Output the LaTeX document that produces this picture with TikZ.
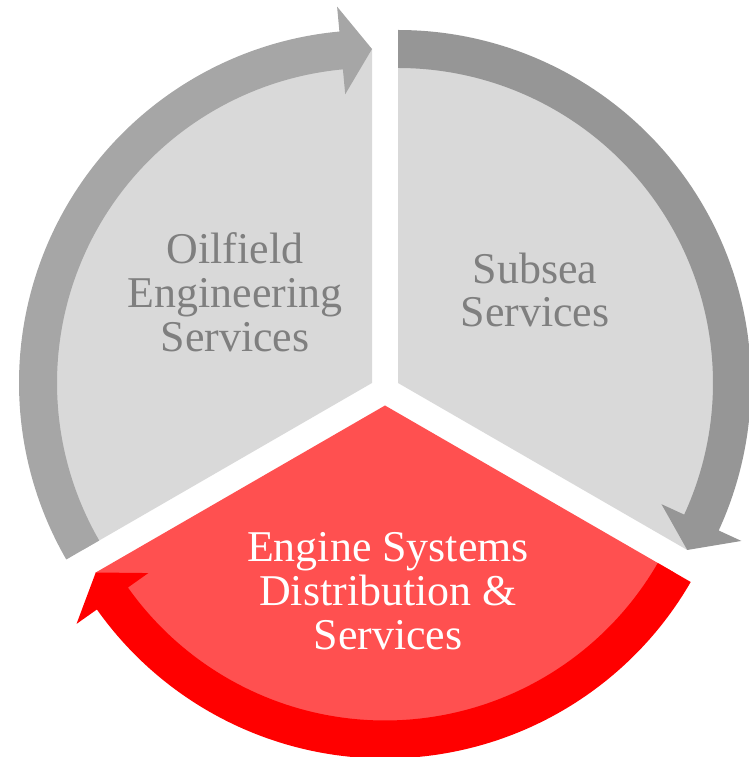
\documentclass[tikz,border=0pt]{standalone}
\usepackage{fontspec}
\setmainfont{Liberation Serif}
\usetikzlibrary{positioning}

\definecolor{segfill}{HTML}{D9D9D9}
\definecolor{ringlight}{HTML}{A6A6A6}
\definecolor{ringdark}{HTML}{969696}
\definecolor{enginefill}{HTML}{FF5050}
\definecolor{enginering}{HTML}{FF0000}
\definecolor{textgray}{HTML}{7F7F7F}

\tikzstyle{seglabel} = [align=center, text=textgray,
  font=\fontsize{25}{25}\selectfont, inner sep=0pt]

% pie segment: centre, start angle, end angle, colour
\newcommand{\segment}[4]{%
  \fill[#4] (#1) -- ++(#2:334) arc[start angle=#2, end angle=#3, radius=334] -- cycle;}

% clockwise ring arrow around a segment: centre, start angle, tip angle, colour
\newcommand{\ringarrow}[4]{%
  \begin{scope}[shift={(#1)}]
    \pgfmathsetmacro{\headbase}{#3+5.3}
    \fill[#4] (#2:353) arc[start angle=#2, end angle=\headbase, radius=353]
      -- (\headbase:378) -- (#3:334) -- (\headbase:290) -- (\headbase:315)
      arc[start angle=\headbase, end angle=#2, radius=315] -- cycle;
  \end{scope}}

\begin{document}
\begin{tikzpicture}[x=0.02cm, y=0.02cm]
    \useasboundingbox (0,0) rectangle (749,757);

    % exploded centres of the three segments
    \coordinate (oilc) at (372,374);
    \coordinate (subc) at (398,374);
    \coordinate (engc) at (385,351.5);

    \segment{oilc}{90}{210}{segfill}
    \segment{subc}{-30}{90}{segfill}
    \ringarrow{oilc}{210}{90}{ringlight}
    \ringarrow{subc}{90}{-30}{ringdark}

    \segment{engc}{210}{330}{enginefill}
    \ringarrow{engc}{-30}{-150}{enginering}

    \node [seglabel] (oilfield) at (235,465) {Oilfield\\Engineering\\Services};
    \node [seglabel] (subsea) at (535,467) {Subsea\\Services};
    \node [seglabel, text=white] (engine) at (388,166) {Engine Systems\\Distribution \&\\Services};
\end{tikzpicture}
\end{document}
